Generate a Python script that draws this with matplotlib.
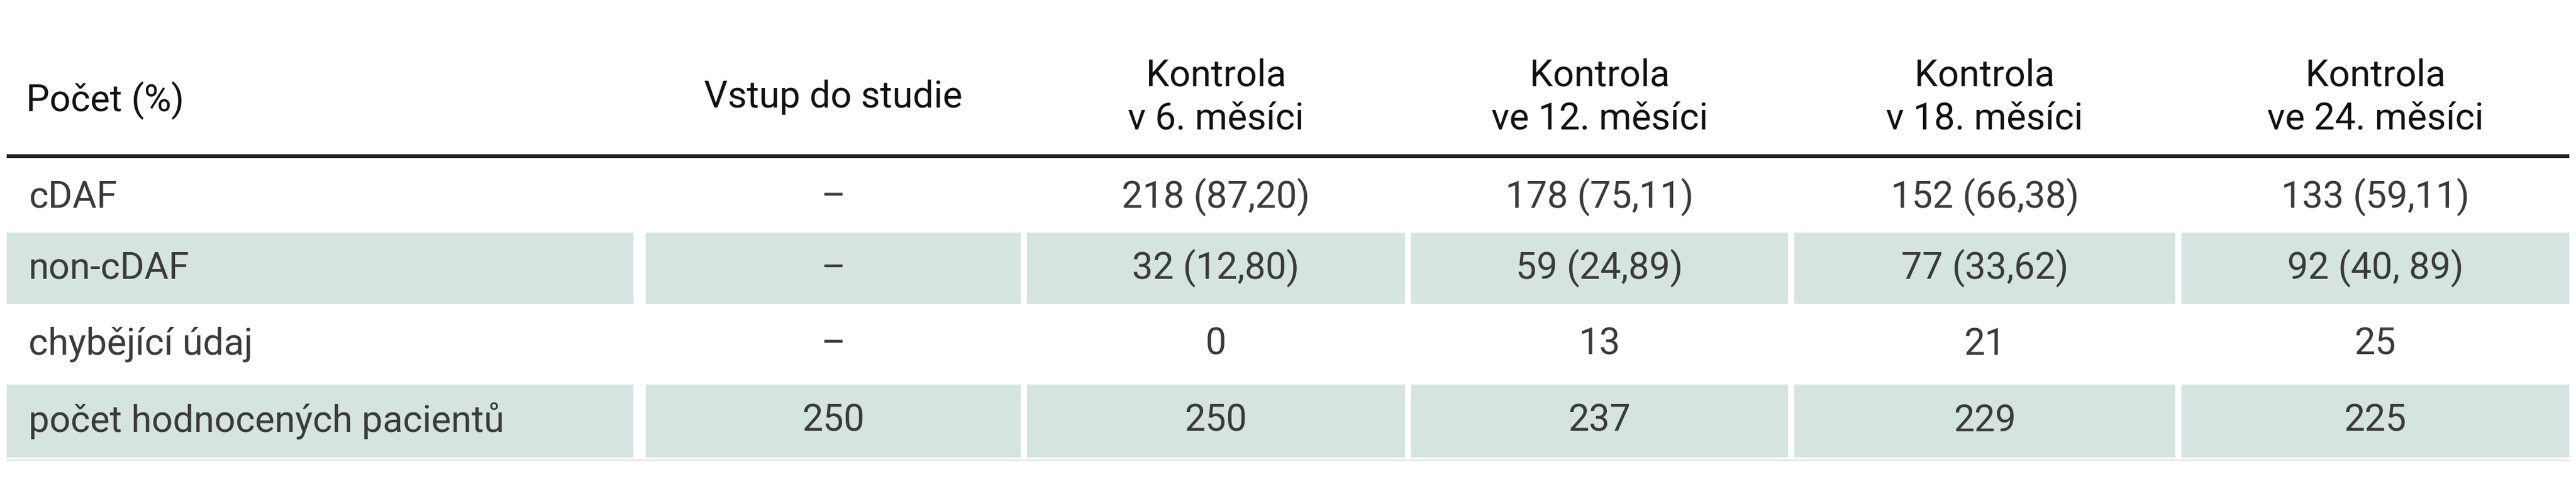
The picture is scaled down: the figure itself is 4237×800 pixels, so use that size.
import matplotlib
matplotlib.use("Agg")
import matplotlib.pyplot as plt
from matplotlib.patches import Rectangle

headers = ["Počet (%)", "Vstup do studie", "Kontrola\nv 6. měsíci", "Kontrola\nve 12. měsíci",
           "Kontrola\nv 18. měsíci", "Kontrola\nve 24. měsíci"]
row_labels = ["cDAF", "non-cDAF", "chybějící údaj", "počet hodnocených pacientů"]
vstup = ["–", "–", "–", "250"]
m6 = ["218 (87,20)", "32 (12,80)", "0", "250"]
m12 = ["178 (75,11)", "59 (24,89)", "13", "237"]
m18 = ["152 (66,38)", "77 (33,62)", "21", "229"]
m24 = ["133 (59,11)", "92 (40, 89)", "25", "225"]
columns = [vstup, m6, m12, m18, m24]

W, H = 4237, 800
fig = plt.figure(figsize=(W/100, H/100), dpi=100)
ax = fig.add_axes([0, 0, 1, 1])
ax.set_xlim(0, W); ax.set_ylim(H, 0); ax.axis("off")

fam = ["Roboto", "DejaVu Sans"]
tc = "#3a3a3a"
fs = 44
bounds = [(11, 1042), (1062, 1679), (1689, 2311), (2321, 2941), (2951, 3578), (3588, 4226)]
row_y = [(265, 383), (383, 500), (500, 633), (633, 753)]
shade = "#d5e4e1"

ax.plot([11, 4226], [257, 257], color="#222222", lw=4.5, solid_capstyle="butt")
ax.plot([11, 4226], [757, 757], color="#e8e8e8", lw=2)

for j, h in enumerate(headers):
    x0, x1 = bounds[j]
    if j == 0:
        ax.text(x0 + 32, 165, h, fontsize=fs, family=fam, color="#111111", va="center", ha="left")
    else:
        ax.text((x0 + x1)/2, 160, h, fontsize=fs, family=fam, color="#111111", va="center",
                ha="center", linespacing=1.3)

for i, lab in enumerate(row_labels):
    y0, y1 = row_y[i]
    yc = (y0 + y1)/2
    if i % 2 == 1:
        for (x0, x1) in bounds:
            ax.add_patch(Rectangle((x0, y0), x1 - x0, y1 - y0, color=shade, lw=0))
    ax.text(bounds[0][0] + 36, yc, lab, fontsize=fs, family=fam, color=tc, va="center", ha="left")
    for j, col in enumerate(columns):
        x0, x1 = bounds[j + 1]
        ax.text((x0 + x1)/2, yc, col[i], fontsize=fs, family=fam, color=tc, va="center", ha="center")

fig.savefig("out.png", dpi=100, facecolor="white")
